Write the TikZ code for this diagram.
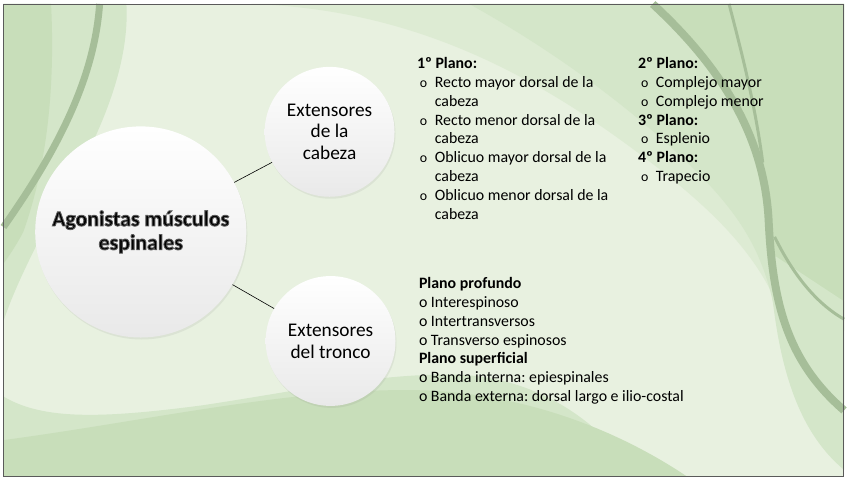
\documentclass[tikz,border=0pt]{standalone}
\usepackage{fontspec}
\setmainfont{Carlito}
\usetikzlibrary{positioning,shadows}
\definecolor{SlideBase}{HTML}{E8F1E0}
\definecolor{SlideLeaf}{HTML}{D4E6C9}
\definecolor{SlideLeafDark}{HTML}{C8DEBA}
\definecolor{SlideLeafPale}{HTML}{DDEBD3}
\definecolor{SlideStem}{HTML}{A6BE99}
\definecolor{SlideFrame}{HTML}{5A5A5A}
\definecolor{BubbleGray}{HTML}{E9E9E9}
\newcommand{\hangitem}[1]{\makebox[18pt][l]{\hspace{3pt}\fontsize{14}{19}\selectfont o}#1}
\newcommand{\hangmore}[1]{\hspace*{18pt}#1}
\newcommand{\glowtext}[1]{\special{pdf:literal direct 2 Tr 0.9 w 0.35 G}#1\special{pdf:literal direct 0 Tr 0 G}}
\frenchspacing
\tikzset{
    % white balls
    bubble/.style={
        circle,
        draw=none,
        shading=axis,
        top color=white,
        middle color=white,
        bottom color=BubbleGray,
        drop shadow={opacity=0.12, shadow xshift=1pt, shadow yshift=-2pt},
        text=black,
        align=center,
        inner sep=0pt
    },
    bubble main/.style={
        bubble,
        minimum size=213pt,
        font=\bfseries\fontsize{22}{24}\selectfont
    },
    bubble side/.style={
        bubble,
        minimum size=131pt,
        font=\fontsize{19.5}{22}\selectfont
    },
    link/.style={
        draw=black,
        line width=0.6pt
    },
    item list/.style={
        anchor=north west,
        align=left,
        inner sep=0pt,
        text=black,
        font=\fontsize{16}{19}\selectfont
    }
}
\begin{document}
\begin{tikzpicture}[x=1pt, y=-1pt]
        % Slide background
        \fill[SlideBase] (0,0) rectangle (848,477);
        \fill[SlideLeafPale] (250,0) .. controls (400,5) and (520,60) .. (640,150) .. controls (720,210) and (770,260) .. (790,330) -- (848,330) -- (848,0) -- cycle;
        \fill[SlideLeaf] (470,0) .. controls (560,50) and (640,110) .. (700,170) .. controls (750,220) and (770,260) .. (780,320) -- (848,320) -- (848,0) -- cycle;
        \fill[SlideLeafDark] (655,0) .. controls (720,60) and (768,130) .. (772,220) .. controls (776,300) and (790,360) .. (848,410) -- (848,0) -- cycle;
        \fill[SlideLeaf] (772,250) .. controls (778,360) and (800,430) .. (848,470) -- (848,300) -- cycle;
        \fill[SlideLeaf] (0,0) -- (124,0) .. controls (128,70) and (90,150) .. (40,230) .. controls (25,260) and (10,290) .. (0,320) -- cycle;
        \fill[SlideLeafDark] (0,0) -- (48,0) .. controls (52,80) and (45,160) .. (20,230) .. controls (12,245) and (5,255) .. (0,262) -- cycle;
        \fill[SlideLeaf] (0,396) .. controls (40,420) and (100,418) .. (200,405) .. controls (300,390) and (380,372) .. (460,374) .. controls (540,378) and (600,420) .. (640,477) -- (0,477) -- cycle;
        \fill[SlideLeafDark] (0,440) .. controls (150,420) and (300,385) .. (430,390) .. controls (530,395) and (620,430) .. (690,477) -- (0,477) -- cycle;
        \draw[SlideStem, line width=7pt] (97,0) .. controls (92,70) and (60,140) .. (0,225);
        \draw[SlideStem, line width=8pt] (655,0) .. controls (720,60) and (768,130) .. (772,220) .. controls (776,300) and (790,360) .. (848,410);
        \draw[SlideStem, line width=3pt] (732,0) .. controls (745,50) and (758,100) .. (766,160);
        \draw[SlideStem, line width=3pt] (778,235) .. controls (800,280) and (825,305) .. (848,318);
        \draw[SlideFrame, line width=1pt] (0.5,0.5) rectangle (847.5,476.5);

        % Bubbles
        \node[bubble main] (agonistas) at (138.5,230) {\glowtext{Agonistas músculos}\\\glowtext{espinales}};
        \node[bubble side] (cabeza) at (329,129) {Extensores\\de la\\cabeza};
        \node[bubble side] (tronco) at (330,340) {Extensores\\del tronco};

        % Links
        \draw[link] (agonistas) -- (cabeza);
        \draw[link] (agonistas) -- (tronco);

        % Muscle lists
        \node[item list] (plano uno) at (417,51.7) {\strut\textbf{1º Plano:}\\
            \hangitem{Recto mayor dorsal de la}\\
            \hangmore{cabeza}\\
            \hangitem{Recto menor dorsal de la}\\
            \hangmore{cabeza}\\
            \hangitem{Oblicuo mayor dorsal de la}\\
            \hangmore{cabeza}\\
            \hangitem{Oblicuo menor dorsal de la}\\
            \hangmore{cabeza}};
        \node[item list] (plano dos) at (640,51.7) {\strut\textbf{2º Plano:}\\
            \hangitem{Complejo mayor}\\
            \hangitem{Complejo menor}\\
            \textbf{3º Plano:}\\
            \hangitem{Esplenio}\\
            \textbf{4º Plano:}\\
            \hangitem{Trapecio}};
        \node[item list] (planos tronco) at (419,273.7) {\strut\textbf{Plano profundo}\\
            o Interespinoso\\
            o Intertransversos\\
            o Transverso espinosos\\
            \textbf{Plano superficial}\\
            o Banda interna: epiespinales\\
            o Banda externa: dorsal largo e ilio-costal};
    \end{tikzpicture}
\end{document}
